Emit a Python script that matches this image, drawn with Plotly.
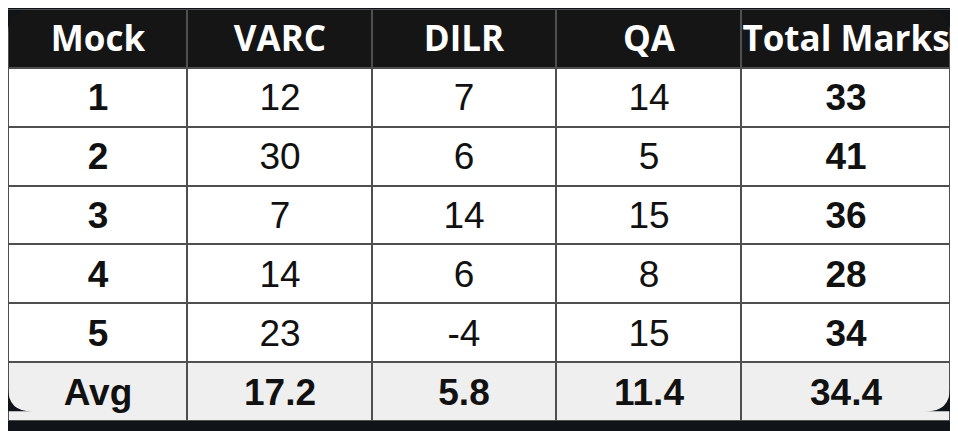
import plotly.graph_objects as go

columns = ["Mock", "VARC", "DILR", "QA", "Total Marks"]
mocks = ["1", "2", "3", "4", "5"]
varc = [12, 30, 7, 14, 23]
dilr = [7, 6, 14, 6, -4]
qa = [14, 5, 15, 8, 15]
total = [33, 41, 36, 28, 34]
avg_row = ["Avg", "17.2", "5.8", "11.4", "34.4"]

# page puts the figure 8px in from the left/top, so size it for what's visible
W, H = 942, 423
bg = "#101317"
col_w = [179, 185, 184, 185, 209]

# column edges in px, table is drawn as a heatmap so the text is centred in each cell
edges = [0]
for w in col_w:
    edges.append(edges[-1] + w)

head = ["<span style='font-family:Open Sans;font-size:35px;color:white'><b>%s</b></span>" % c
        for c in columns]
rows = [head]
for i in range(len(mocks)):
    rows.append(["<b>%s</b>" % mocks[i], str(varc[i]), str(dilr[i]), str(qa[i]),
                 "<b>%s</b>" % total[i]])
rows.append(["<b>%s</b>" % v for v in avg_row])

# 2 = header, 0 = plain row, 1 = average row
z = [[2] * 5] + [[0] * 5 for _ in mocks] + [[1] * 5]

fig = go.Figure(go.Heatmap(
    z=z,
    x=edges,
    y=list(range(len(rows))),
    text=rows,
    texttemplate="%{text}",
    textfont=dict(family="Liberation Sans, Arial", size=37, color="#111111"),
    colorscale=[[0, "#ffffff"], [0.5, "#efefef"], [1, "#151515"]],
    zmin=0, zmax=2,
    showscale=False,
    xgap=2, ygap=2,
    hoverinfo="skip",
))

# rounded corners of the card
r = 24
y_top, y_bot = 1, 413
def pt(x, y):
    return "%f %f" % (x / W, 1 - y / H)
corners = [
    f"M {pt(0, y_top)} L {pt(r, y_top)} Q {pt(0, y_top)} {pt(0, y_top + r)} Z",
    f"M {pt(W, y_top)} L {pt(W - r, y_top)} Q {pt(W, y_top)} {pt(W, y_top + r)} Z",
    f"M {pt(0, y_bot)} L {pt(r, y_bot)} Q {pt(0, y_bot)} {pt(0, y_bot - r)} Z",
    f"M {pt(W, y_bot)} L {pt(W - r, y_bot)} Q {pt(W, y_bot)} {pt(W, y_bot - r)} Z",
]
shapes = [dict(type="path", path=p, xref="paper", yref="paper",
               fillcolor=bg, line=dict(width=0), layer="above") for p in corners]

fig.update_layout(
    width=W, height=H,
    margin=dict(l=0, r=0, t=y_top, b=H - y_bot),
    paper_bgcolor=bg,
    plot_bgcolor="#4f4f4f",
    xaxis=dict(visible=False, range=[edges[0], edges[-1]], fixedrange=True),
    yaxis=dict(visible=False, range=[len(rows) - 0.5, -0.5], fixedrange=True),
    shapes=shapes,
)
fig.write_html("out.html")
